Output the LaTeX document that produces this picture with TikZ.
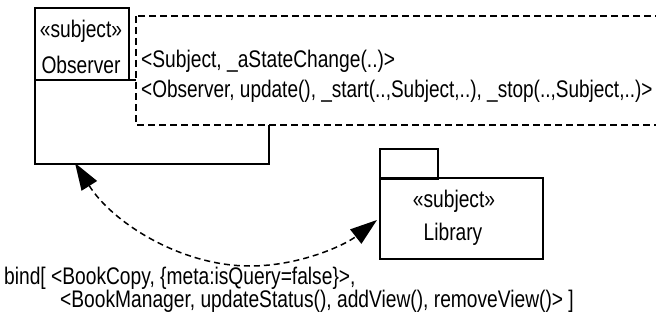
\documentclass[tikz,border=0pt]{standalone}
\usepackage{fontspec}
\setmainfont[FakeStretch=0.80]{Liberation Sans}
\usetikzlibrary{arrows.meta}
\tikzset{
  pkgline/.style={draw=black, line width=1.7pt},
  tmplbox/.style={draw=black, fill=white, line width=1.5pt, dash pattern=on 7pt off 4pt},
  lbl/.style={inner sep=0pt, font=\fontsize{24}{28}\selectfont},
  bindarrow/.style={line width=1.5pt, dash pattern=on 6pt off 4pt,
    {Triangle[length=27pt,width=18pt]}-{Triangle[length=27pt,width=18pt]}}
}
\begin{document}
\begin{tikzpicture}[x=1pt,y=-1pt]
\useasboundingbox (0,0) rectangle (656,329);

% Observer collaboration template: tab and body
\node[pkgline, anchor=north west, minimum width=94pt, minimum height=72pt, inner sep=0pt] (obstab) at (34,7) {};
\node[pkgline, anchor=north west, minimum width=234pt, minimum height=84pt, inner sep=0pt] (obsbody) at (34,79) {};
\node[lbl, anchor=base] (obsstereo) at (81,38) {«subject»};
\node[lbl, anchor=base] (obsname) at (81,74) {Observer};

% template parameter box
\draw[tmplbox] (136,16) rectangle (664,125);
\node[lbl, anchor=base west] (parA) at (141,68) {<Subject, \_aStateChange(..)>};
\node[lbl, anchor=base west] (parB) at (141,97) {\scalebox{0.99}[1]{<Observer, update(), \_start(..,Subject,..), \_stop(..,Subject,..)>}};

% Library package
\node[pkgline, anchor=north west, minimum width=58pt, minimum height=30pt, inner sep=0pt] (libtab) at (379,148) {};
\node[pkgline, anchor=north west, minimum width=163pt, minimum height=81pt, inner sep=0pt] (libbody) at (379,177) {};
\node[lbl, anchor=base] (libstereo) at (454,207) {«subject»};
\node[lbl, anchor=base] (libname) at (453,240) {Library};

% binding dependency
\coordinate (bindA) at (75,163);
\coordinate (bindLow) at (250,266);
\coordinate (bindB) at (377,220);
\draw[bindarrow] (bindA) .. controls (112,222) and (180,266) .. (bindLow)
                         .. controls (300,266) and (345,245) .. (bindB);

% binding expression
\node[lbl, anchor=base west] (bindA1) at (4,284) {bind[ <BookCopy, \{meta:isQuery=false\}>,};
\node[lbl, anchor=base west] (bindA2) at (60,307) {<BookManager, updateStatus(), addView(), removeView()> ]};
\end{tikzpicture}
\end{document}
